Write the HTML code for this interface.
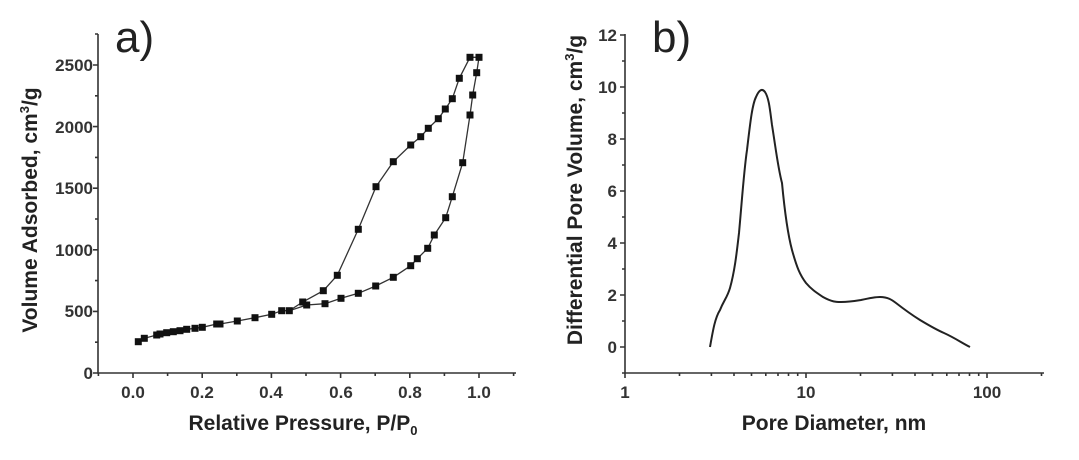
<!DOCTYPE html>
<html><head><meta charset="utf-8"><style>
html,body{margin:0;padding:0;background:#fff;}
svg{display:block;font-family:"Liberation Sans",Arial,sans-serif;}
.t{font-size:17px;font-weight:bold;fill:#333;}
.ti{font-size:21px;font-weight:bold;fill:#222;}
</style></head><body>
<svg width="1079" height="460" viewBox="0 0 1079 460">
<defs><rect id="m" x="-3.5" y="-3.5" width="7" height="7" fill="#111"/></defs>
<g stroke="#333" stroke-width="1.6" fill="none">
<path d="M98,34 V373 H516"/>
<path d="M93,373H98 M93,311.4H98 M93,249.8H98 M93,188.2H98 M93,126.6H98 M93,65H98"/>
<path d="M95,342.2H98 M95,280.6H98 M95,219H98 M95,157.4H98 M95,95.8H98 M95,34H98"/>
<path d="M133,373V378 M202.2,373V378 M271.4,373V378 M340.6,373V378 M409.8,373V378 M479,373V378"/>
<path d="M98.4,373V376 M167.6,373V376 M236.8,373V376 M306,373V376 M375.2,373V376 M444.4,373V376 M513.6,373V376"/>
<path d="M625,34 V373 H1044"/>
<path d="M620,347H625 M620,295H625 M620,243H625 M620,191H625 M620,139H625 M620,87H625 M620,35H625"/>
<path d="M622,373H625 M622,321H625 M622,269H625 M622,217H625 M622,165H625 M622,113H625 M622,61H625"/>
<path d="M625,373V378 M806,373V378 M987,373V378"/>
<path d="M679.5,373V376 M711.4,373V376 M734,373V376 M751.5,373V376 M765.8,373V376 M778,373V376 M788.5,373V376 M797.7,373V376
M860.5,373V376 M892.4,373V376 M915,373V376 M932.5,373V376 M946.8,373V376 M959,373V376 M969.5,373V376 M978.7,373V376 M1041.5,373V376"/>
</g>
<g class="t" text-anchor="end">
<text x="93" y="379">0</text><text x="93" y="317">500</text><text x="93" y="256">1000</text>
<text x="93" y="194">1500</text><text x="93" y="133">2000</text><text x="93" y="71">2500</text>
</g>
<g class="t" text-anchor="middle">
<text x="133" y="398">0.0</text><text x="202" y="398">0.2</text><text x="271" y="398">0.4</text>
<text x="341" y="398">0.6</text><text x="410" y="398">0.8</text><text x="479" y="398">1.0</text>
</g>
<g class="t" text-anchor="end">
<text x="617" y="353">0</text><text x="617" y="301">2</text><text x="617" y="249">4</text><text x="617" y="197">6</text>
<text x="617" y="145">8</text><text x="617" y="93">10</text><text x="617" y="41">12</text>
</g>
<g class="t" text-anchor="middle">
<text x="625" y="398">1</text><text x="806" y="398">10</text><text x="987" y="398">100</text>
</g>
<text class="ti" x="303" y="430" text-anchor="middle">Relative Pressure, P/P<tspan font-size="13" dy="5">0</tspan></text>
<text class="ti" x="834" y="430" text-anchor="middle">Pore Diameter, nm</text>
<text class="ti" transform="translate(37,210) rotate(-90)" text-anchor="middle">Volume Adsorbed, cm<tspan font-size="13" dy="-8">3</tspan><tspan dy="8">/g</tspan></text>
<text class="ti" transform="translate(582,190) rotate(-90)" text-anchor="middle">Differential Pore Volume, cm<tspan font-size="13" dy="-8">3</tspan><tspan dy="8">/g</tspan></text>
<text x="115" y="52" font-size="44" fill="#222">a)</text>
<text x="652" y="52" font-size="44" fill="#222">b)</text>
<g fill="none" stroke="#333" stroke-width="1.3">
<polyline points="138.3,341.7 144.3,338.3 156.7,335 160,334 166.7,332.7 173.3,331.7 180,330.7 186.7,329.3 195,328.3 202.3,327.3 216.7,324 220,324 237.3,321 255,317.7 271.7,314.3 281.7,310.7 289.3,310.7 306.7,305 325,303.7 341,298.3 358.3,293.3 375.7,286 393.3,277.3 410.7,265.7 417.3,258.7 427.7,248.3 434.3,235 445.7,217.7 452.3,196.7 462.7,162.7 470,115 472.7,95 476.7,72.7 479,57.3"/>
<polyline points="479,57.3 470,57.3 459.3,78.3 452.3,98.7 445.3,109 438.3,118.7 428.3,128.3 420.7,136.7 410.7,145 393.3,161.7 376,186.7 358.3,229.3 337.3,275.3 323.3,290.7 302.7,302 289.3,310.7"/>
</g>
<g>
<use href="#m" x="138.3" y="341.7"/><use href="#m" x="144.3" y="338.3"/><use href="#m" x="156.7" y="335"/><use href="#m" x="160" y="334"/><use href="#m" x="166.7" y="332.7"/><use href="#m" x="173.3" y="331.7"/><use href="#m" x="180" y="330.7"/><use href="#m" x="186.7" y="329.3"/><use href="#m" x="195" y="328.3"/><use href="#m" x="202.3" y="327.3"/><use href="#m" x="216.7" y="324"/><use href="#m" x="220" y="324"/><use href="#m" x="237.3" y="321"/><use href="#m" x="255" y="317.7"/><use href="#m" x="271.7" y="314.3"/><use href="#m" x="281.7" y="310.7"/><use href="#m" x="289.3" y="310.7"/><use href="#m" x="306.7" y="305"/><use href="#m" x="325" y="303.7"/><use href="#m" x="341" y="298.3"/><use href="#m" x="358.3" y="293.3"/><use href="#m" x="375.7" y="286"/><use href="#m" x="393.3" y="277.3"/><use href="#m" x="410.7" y="265.7"/><use href="#m" x="417.3" y="258.7"/><use href="#m" x="427.7" y="248.3"/><use href="#m" x="434.3" y="235"/><use href="#m" x="445.7" y="217.7"/><use href="#m" x="452.3" y="196.7"/><use href="#m" x="462.7" y="162.7"/><use href="#m" x="470" y="115"/><use href="#m" x="472.7" y="95"/><use href="#m" x="476.7" y="72.7"/><use href="#m" x="479" y="57.3"/>
<use href="#m" x="470" y="57.3"/><use href="#m" x="459.3" y="78.3"/><use href="#m" x="452.3" y="98.7"/><use href="#m" x="445.3" y="109"/><use href="#m" x="438.3" y="118.7"/><use href="#m" x="428.3" y="128.3"/><use href="#m" x="420.7" y="136.7"/><use href="#m" x="410.7" y="145"/><use href="#m" x="393.3" y="161.7"/><use href="#m" x="376" y="186.7"/><use href="#m" x="358.3" y="229.3"/><use href="#m" x="337.3" y="275.3"/><use href="#m" x="323.3" y="290.7"/><use href="#m" x="302.7" y="302"/>
</g>
<path fill="none" stroke="#222" stroke-width="2" d="M710,347 C713,330 715,318 720,310 C724,300 727,298 730,288 C735,270 737,250 739,233 C742,200 744,170 747,150 C750,125 752,105 756,97 C759,90 762,88 765,92 C769,98 770,110 772,125 C776,150 778,168 782,183 C785,215 788,235 792,250 C797,268 800,275 806,283 C812,290 817,293 823,297 C832,302 836,302 841,302 C850,302 855,301 861,300 C870,298 875,297 880,297 C888,297 892,300 896,303 C905,310 912,315 920,320 C930,326 937,330 944,333 C955,338 962,343 970,347"/>
</svg>
</body></html>
